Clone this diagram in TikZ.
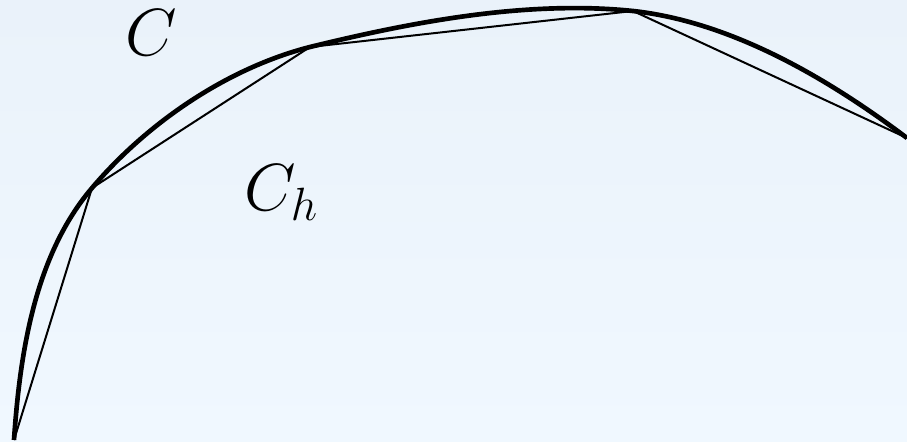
\documentclass[tikz,border=0pt]{standalone}
\usepackage{fix-cm}
\begin{document}
\begin{tikzpicture}[x=0.75pt,y=-0.75pt,
  curvestyle/.style={line width=3.5pt,line join=round},
  polystyle/.style={line width=1.5pt,line join=miter},
  lbl/.style={inner sep=0pt,anchor=base west,font=\fontsize{50}{60}\selectfont}]
\definecolor{bgtop}{RGB}{234,242,250}
\definecolor{bgbot}{RGB}{240,248,255}
\useasboundingbox (0,0) rectangle (907,442);
\shade[top color=bgtop,bottom color=bgbot] (0,0) rectangle (907,442);
\coordinate (p0) at (14,440);
\coordinate (p1) at (92,188);
\coordinate (p2) at (310,47);
\coordinate (p3) at (633,11);
\coordinate (p4) at (907,138);
\draw[curvestyle] (p0) .. controls (20,352) and (35,255) .. (p1)
  .. controls (148,122) and (228,68) .. (p2)
  .. controls (412,22) and (527,0) .. (p3)
  .. controls (733,22) and (830,80) .. (p4);
\draw[polystyle] (p0) -- (p1) -- (p2) -- (p3) -- (p4);
\node[lbl] (c) at (125,56) {$C$};
\node[lbl] (ch) at (244,211) {$C_h$};
\end{tikzpicture}
\end{document}
